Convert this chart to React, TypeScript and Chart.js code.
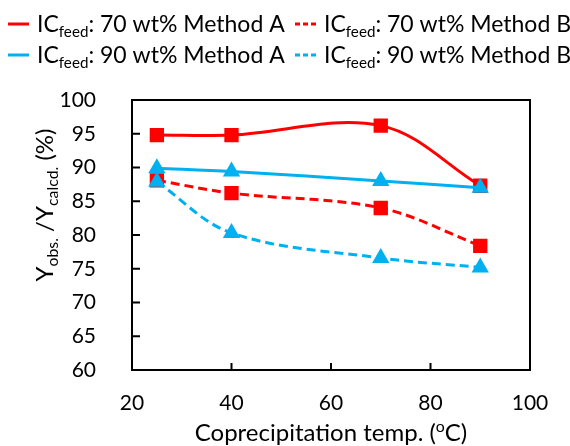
import React, { useEffect, useRef } from "react";
import { Chart, registerables } from "chart.js";

Chart.register(...registerables);

// ---- data ----
const temps = [25, 40, 70, 90];
const ic70MethodA = [94.8, 94.8, 96.2, 87.3];
const ic70MethodB = [88.1, 86.2, 84.0, 78.4];
const ic90MethodA = [89.9, 89.4, 88.0, 87.0];
const ic90MethodB = [87.9, 80.3, 76.6, 75.2];
const xTicks = [20, 40, 60, 80, 100];
const yTicks = [60, 65, 70, 75, 80, 85, 90, 95, 100];

const RED = "#FF0000";
const BLUE = "#00B0F0";
const FONT = "Lato, 'Open Sans', sans-serif";
const TICK_FS = 21;
const LEG_FS = 23;
const TITLE_FS = 24;

type Seg = { t: string; sub?: boolean; sup?: boolean };

function drawRich(
  ctx: CanvasRenderingContext2D,
  segs: Seg[],
  x: number,
  y: number,
  size: number,
  align: "left" | "center"
) {
  const small = size * 0.66;
  const widths = segs.map((s) => {
    ctx.font = `${s.sub || s.sup ? small : size}px ${FONT}`;
    return ctx.measureText(s.t).width;
  });
  const total = widths.reduce((a, b) => a + b, 0);
  let cx = align === "center" ? x - total / 2 : x;
  ctx.textAlign = "left";
  ctx.textBaseline = "alphabetic";
  segs.forEach((s, i) => {
    ctx.font = `${s.sub || s.sup ? small : size}px ${FONT}`;
    const dy = s.sub ? size * 0.2 : s.sup ? -size * 0.36 : 0;
    ctx.fillText(s.t, cx, y + dy);
    cx += widths[i];
  });
}

const legendItems = [
  { label: "70 wt% Method A", color: RED, dash: [] as number[] },
  { label: "70 wt% Method B", color: RED, dash: [5, 3] },
  { label: "90 wt% Method A", color: BLUE, dash: [] as number[] },
  { label: "90 wt% Method B", color: BLUE, dash: [5, 3] },
];

const overlayPlugin = {
  id: "overlay",
  afterDraw(chart: any) {
    const ctx: CanvasRenderingContext2D = chart.ctx;
    const { left, right, top, bottom } = chart.chartArea;
    const xs = chart.scales.x;
    const ys = chart.scales.y;
    ctx.save();
    // box
    ctx.strokeStyle = "#000";
    ctx.lineWidth = 2;
    ctx.setLineDash([]);
    ctx.strokeRect(left, top, right - left, bottom - top);
    // inner ticks
    ctx.beginPath();
    yTicks.forEach((v) => {
      const py = ys.getPixelForValue(v);
      ctx.moveTo(left, py);
      ctx.lineTo(left + 8, py);
    });
    xTicks.forEach((v) => {
      const px = xs.getPixelForValue(v);
      ctx.moveTo(px, bottom);
      ctx.lineTo(px, bottom - 7);
    });
    ctx.stroke();

    // legend
    const cols = [8, 295];
    const rows = [32, 63];
    legendItems.forEach((it, i) => {
      const lx = cols[i % 2];
      const ly = rows[Math.floor(i / 2)];
      ctx.strokeStyle = it.color;
      ctx.lineWidth = 3;
      ctx.setLineDash(it.dash);
      ctx.beginPath();
      ctx.moveTo(lx, ly - 8);
      ctx.lineTo(lx + 21, ly - 8);
      ctx.stroke();
      ctx.setLineDash([]);
      ctx.fillStyle = "#000";
      drawRich(
        ctx,
        [{ t: "IC" }, { t: "feed", sub: true }, { t: ": " + it.label }],
        lx + 29,
        ly,
        LEG_FS,
        "left"
      );
    });

    // x title
    ctx.fillStyle = "#000";
    drawRich(
      ctx,
      [{ t: "Coprecipitation temp. (" }, { t: "o", sup: true }, { t: "C)" }],
      (left + right) / 2,
      441,
      TITLE_FS,
      "center"
    );

    // y title
    ctx.save();
    ctx.translate(53, 205);
    ctx.rotate(-Math.PI / 2);
    drawRich(
      ctx,
      [
        { t: "Y" },
        { t: "obs.", sub: true },
        { t: " /Y" },
        { t: "calcd.", sub: true },
        { t: " (%)" },
      ],
      0,
      0,
      TITLE_FS,
      "center"
    );
    ctx.restore();
    ctx.restore();
  },
};

export default function App() {
  const ref = useRef<HTMLCanvasElement | null>(null);
  useEffect(() => {
    if (!ref.current) return;
    const mk = (v: number[]) => temps.map((t, i) => ({ x: t, y: v[i] }));
    const base = { borderWidth: 3, tension: 0.35 };
    const chart = new Chart(ref.current, {
      type: "line",
      data: {
        datasets: [
          {
            ...base,
            label: "IC feed: 70 wt% Method A",
            data: mk(ic70MethodA),
            borderColor: RED,
            backgroundColor: RED,
            pointStyle: "rect",
            pointRadius: 8,
            pointHoverRadius: 8,
            order: 4,
          },
          {
            ...base,
            label: "IC feed: 70 wt% Method B",
            data: mk(ic70MethodB),
            borderColor: RED,
            backgroundColor: RED,
            borderDash: [9, 5],
            pointStyle: "rect",
            pointRadius: 8,
            pointHoverRadius: 8,
            order: 3,
          },
          {
            ...base,
            label: "IC feed: 90 wt% Method A",
            data: mk(ic90MethodA),
            borderColor: BLUE,
            backgroundColor: BLUE,
            pointStyle: "triangle",
            pointRadius: 7,
            pointHoverRadius: 7,
            order: 2,
          },
          {
            ...base,
            label: "IC feed: 90 wt% Method B",
            data: mk(ic90MethodB),
            borderColor: BLUE,
            backgroundColor: BLUE,
            borderDash: [9, 5],
            pointStyle: "triangle",
            pointRadius: 7,
            pointHoverRadius: 7,
            order: 1,
          },
        ],
      },
      options: {
        animation: false,
        responsive: false,
        maintainAspectRatio: false,
        layout: { padding: { left: 0, top: 100, right: 40, bottom: 0 } },
        plugins: {
          legend: { display: false },
          tooltip: { enabled: false },
        },
        scales: {
          x: {
            type: "linear",
            min: 20,
            max: 100,
            afterBuildTicks: (s: any) => {
              s.ticks = xTicks.map((v) => ({ value: v }));
            },
            afterFit: (s: any) => {
              s.height = 76;
            },
            ticks: {
              color: "#000",
              font: { family: FONT, size: TICK_FS },
              padding: 13,
              maxRotation: 0,
            },
            grid: { display: false },
            border: { display: false },
          },
          y: {
            type: "linear",
            min: 60,
            max: 100,
            afterBuildTicks: (s: any) => {
              s.ticks = yTicks.map((v) => ({ value: v }));
            },
            afterFit: (s: any) => {
              s.width = 132;
            },
            ticks: {
              color: "#000",
              font: { family: FONT, size: TICK_FS },
              padding: 28,
            },
            grid: { display: false },
            border: { display: false },
          },
        },
      },
      plugins: [overlayPlugin],
    } as any);
    return () => chart.destroy();
  }, []);
  return (
    <div style={{ position: "fixed", left: 0, top: 0, width: 570, height: 446, background: "#fff" }}>
      <canvas ref={ref} width={570} height={446} style={{ width: 570, height: 446 }} />
    </div>
  );
}
